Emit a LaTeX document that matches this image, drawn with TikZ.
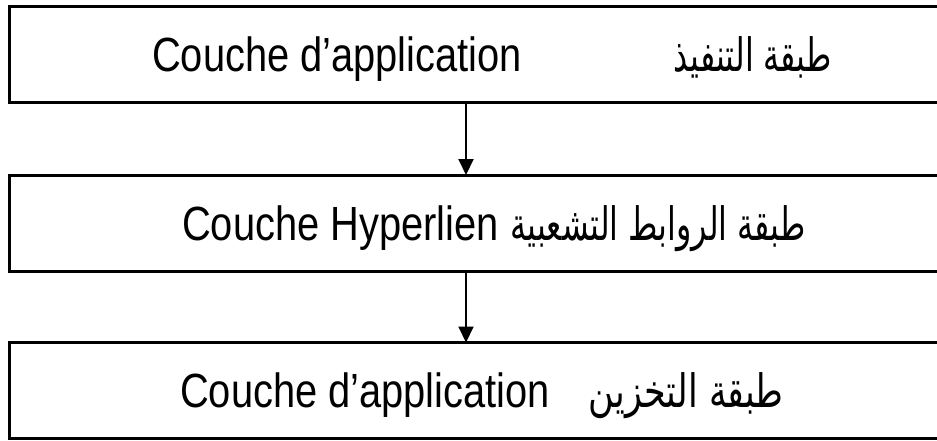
\documentclass[tikz,border=0pt]{standalone}
\usepackage{fontspec}
\setmainfont{Liberation Sans}
\newfontfamily\arabicfont[Script=Arabic]{DejaVu Sans}
\TeXXeTstate=1
\usetikzlibrary{arrows.meta}
% narrow, tall lettering for the layer names
\newcommand{\frtext}[1]{\scalebox{0.83}[1]{\fontsize{48}{56}\selectfont #1}}
\newcommand{\artext}[2][0.69]{\scalebox{#1}[1]{\fontsize{46}{56}\selectfont\arabicfont\beginR #2\endR}}
\begin{document}
\begin{tikzpicture}[x=1pt,y=-1pt,
  layerbox/.style={draw, line width=3pt, rectangle, inner sep=0pt, outer sep=0pt,
    minimum width=951pt, minimum height=96pt, anchor=north west},
  latin/.style={inner sep=0pt, anchor=base west},
  arabic/.style={inner sep=0pt, anchor=base east},
  flow/.style={line width=2pt, -{Triangle[length=16pt,width=15pt]}}]
  \useasboundingbox (0,0) rectangle (937,440);
  \fill[white] (0,0) rectangle (937,440);
  \clip (0,0) rectangle (937,440);

  % the three layers
  \node[layerbox] (app)   at (9.5,6.5)   {};
  \node[layerbox] (hyper) at (9.5,175)   {};
  \node[layerbox] (store) at (9.5,342.5) {};

  % labels
  \node[latin]  (appfr)   at (152,71.5)  {\frtext{Couche d’application}};
  \node[arabic] (appar)   at (832,71.5)  {\artext{طبقة التنفيذ}};
  \node[latin]  (hyperfr) at (182,240)   {\frtext{Couche Hyperlien}};
  \node[arabic] (hyperar) at (806,240)   {\artext{طبقة الروابط التشعبية}};
  \node[latin]  (storefr) at (180,407.5) {\frtext{Couche d’application}};
  \node[arabic] (storear) at (784,407.5) {\artext[0.76]{طبقة التخزين}};

  % connectors
  \coordinate (ax) at (466,0);
  \draw[flow] (ax |- app.south)   -- (ax |- hyper.north);
  \draw[flow] (ax |- hyper.south) -- (ax |- store.north);
\end{tikzpicture}
\end{document}
